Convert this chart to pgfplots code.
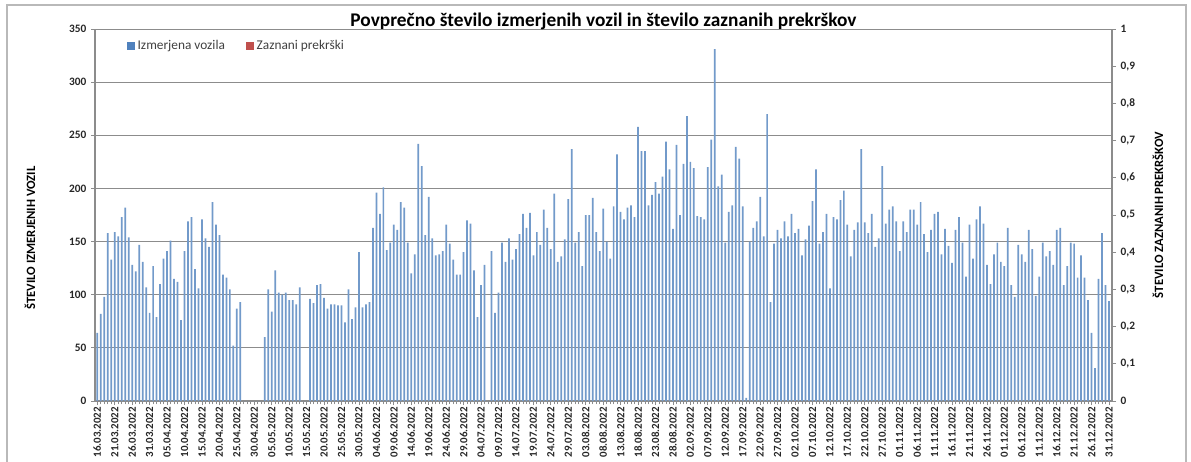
\documentclass[border=0pt]{standalone}
\usepackage{pgfplots}
\pgfplotsset{compat=1.18}
\usepackage{fontspec}
\setmainfont{Carlito}
\definecolor{barblue}{HTML}{4F81BD}
\definecolor{barred}{HTML}{C0504D}
\definecolor{gridgray}{HTML}{8C8C8C}
\begin{document}
\begin{tikzpicture}[x=1pt,y=1pt]
\useasboundingbox (0,0) rectangle (893.25,345.75);
\draw[gray!55, line width=0.8pt] (5.25,-10) -- (5.25,342) -- (889.5,342) -- (889.5,-10);
\begin{axis}[
  at={(71.25pt,45pt)}, anchor=south west,
  width=762.75pt, height=279pt, scale only axis,
  xmin=-0.66, xmax=290.86, ymin=0, ymax=350,
  axis y line*=left, axis x line*=bottom,
  axis line style={gridgray, line width=0.8pt},
  ymajorgrids, grid style={gridgray, line width=0.75pt},
  ytick={0,50,...,350},
  xtick={0,5,...,290},
  minor x tick num=4,
  tick align=outside,
  major tick length=3pt, minor tick length=2.5pt,
  tick style={gridgray, line width=0.6pt},
  xticklabels={16.03.2022,21.03.2022,26.03.2022,31.03.2022,05.04.2022,10.04.2022,15.04.2022,20.04.2022,25.04.2022,30.04.2022,05.05.2022,10.05.2022,15.05.2022,20.05.2022,25.05.2022,30.05.2022,04.06.2022,09.06.2022,14.06.2022,19.06.2022,24.06.2022,29.06.2022,04.07.2022,09.07.2022,14.07.2022,19.07.2022,24.07.2022,29.07.2022,03.08.2022,08.08.2022,13.08.2022,18.08.2022,23.08.2022,28.08.2022,02.09.2022,07.09.2022,12.09.2022,17.09.2022,22.09.2022,27.09.2022,02.10.2022,07.10.2022,12.10.2022,17.10.2022,22.10.2022,27.10.2022,01.11.2022,06.11.2022,11.11.2022,16.11.2022,21.11.2022,26.11.2022,01.12.2022,06.12.2022,11.12.2022,16.12.2022,21.12.2022,26.12.2022,31.12.2022},
  xticklabel style={rotate=90, anchor=east, font=\bfseries\fontsize{8.2}{9}\selectfont, text=black!85, inner sep=1.5pt},
  yticklabel style={font=\bfseries\fontsize{8.5}{9}\selectfont, text=black!85},
  /pgf/number format/assume math mode=true,
  legend style={at={(0.0275,0.954)}, anchor=west, draw=none, fill=none,
    font=\fontsize{10}{11}\selectfont, text=black!75, legend columns=2,
    /tikz/every even column/.append style={column sep=14pt}},
]
\addlegendimage{legend image code/.code={\fill[barblue] (0pt,-2.7pt) rectangle (5.4pt,2.7pt);}}
\addlegendentry{Izmerjena vozila}
\addlegendimage{legend image code/.code={\fill[barred] (0pt,-2.7pt) rectangle (5.4pt,2.7pt);}}
\addlegendentry{Zaznani prekrški}
\addplot[ybar, bar width=1.3pt, bar shift=0pt, fill=barblue!80!white, draw=none, forget plot] coordinates {
(0,64) (1,82) (2,98) (3,158) (4,133) (5,159) (6,155) (7,173) (8,182) (9,154)
(10,128) (11,122) (12,147) (13,131) (14,107) (15,83) (16,127) (17,79) (18,110) (19,134)
(20,141) (21,151) (22,115) (23,112) (24,76) (25,141) (26,169) (27,173) (28,124) (29,106)
(30,171) (31,153) (32,145) (33,187) (34,166) (35,156) (36,119) (37,116) (38,105) (39,52)
(40,87) (41,93) (42,0) (43,0) (44,0) (45,0) (46,0) (47,0) (48,60) (49,105)
(50,84) (51,123) (52,102) (53,100) (54,102) (55,95) (56,95) (57,91) (58,107) (59,0)
(60,0) (61,96) (62,92) (63,109) (64,110) (65,97) (66,87) (67,91) (68,91) (69,90)
(70,90) (71,74) (72,105) (73,77) (74,88) (75,140) (76,88) (77,91) (78,93) (79,163)
(80,196) (81,176) (82,201) (83,142) (84,149) (85,166) (86,161) (87,187) (88,182) (89,149)
(90,120) (91,138) (92,242) (93,221) (94,156) (95,192) (96,153) (97,137) (98,138) (99,141)
(100,166) (101,148) (102,133) (103,119) (104,119) (105,140) (106,170) (107,167) (108,123) (109,79)
(110,109) (111,128) (112,0) (113,141) (114,83) (115,102) (116,149) (117,131) (118,153) (119,133)
(120,143) (121,157) (122,176) (123,163) (124,177) (125,137) (126,159) (127,147) (128,180) (129,163)
(130,143) (131,195) (132,131) (133,136) (134,152) (135,190) (136,237) (137,149) (138,159) (139,127)
(140,175) (141,175) (142,191) (143,159) (144,141) (145,181) (146,150) (147,134) (148,183) (149,232)
(150,178) (151,171) (152,182) (153,184) (154,173) (155,258) (156,235) (157,235) (158,184) (159,194)
(160,206) (161,195) (162,211) (163,244) (164,218) (165,162) (166,241) (167,175) (168,223) (169,268)
(170,225) (171,219) (172,174) (173,173) (174,171) (175,220) (176,246) (177,331) (178,202) (179,213)
(180,149) (181,178) (182,184) (183,239) (184,228) (185,183) (186,3) (187,150) (188,163) (189,169)
(190,192) (191,155) (192,270) (193,93) (194,148) (195,161) (196,153) (197,169) (198,155) (199,176)
(200,158) (201,162) (202,137) (203,152) (204,165) (205,188) (206,218) (207,148) (208,159) (209,176)
(210,106) (211,173) (212,171) (213,189) (214,198) (215,166) (216,136) (217,161) (218,168) (219,237)
(220,168) (221,158) (222,176) (223,145) (224,153) (225,221) (226,167) (227,180) (228,183) (229,169)
(230,141) (231,169) (232,159) (233,180) (234,180) (235,166) (236,187) (237,157) (238,140) (239,161)
(240,176) (241,178) (242,138) (243,162) (244,146) (245,130) (246,161) (247,173) (248,149) (249,117)
(250,166) (251,134) (252,171) (253,183) (254,167) (255,128) (256,110) (257,138) (258,149) (259,131)
(260,127) (261,163) (262,109) (263,98) (264,147) (265,138) (266,131) (267,161) (268,143) (269,99)
(270,117) (271,149) (272,136) (273,141) (274,128) (275,161) (276,163) (277,109) (278,127) (279,149)
(280,148) (281,116) (282,137) (283,116) (284,95) (285,64) (286,31) (287,115) (288,158) (289,109)
(290,94)
};
\end{axis}
\begin{axis}[
  at={(71.25pt,45pt)}, anchor=south west,
  width=762.75pt, height=279pt, scale only axis,
  xmin=-0.66, xmax=290.86, ymin=0, ymax=1,
  axis y line*=right, axis x line=none,
  axis line style={gridgray, line width=0.8pt},
  ytick={0,0.1,0.2,0.3,0.4,0.5,0.6,0.7,0.8,0.9,1},
  tick align=outside, major tick length=3pt,
  ytick style={gridgray, line width=0.6pt},
  yticklabel style={font=\bfseries\fontsize{8.5}{9}\selectfont, text=black!85,
    /pgf/number format/.cd, use comma, fixed, precision=1},
  /pgf/number format/assume math mode=true,
]
\addplot[ybar, bar width=1.3pt, bar shift=0pt, fill=barred, draw=none] coordinates {(0,0) (100,0) (200,0) (290,0)};
\end{axis}
\node[rotate=90, font=\bfseries\fontsize{9.5}{11}\selectfont] at (22.5,167.25) {ŠTEVILO IZMERJENIH VOZIL};
\node[rotate=90, font=\bfseries\fontsize{9.5}{11}\selectfont] at (868.5,184.5) {ŠTEVILO ZAZNANIH PREKRŠKOV};
\node[font=\bfseries\fontsize{14.5}{16}\selectfont, anchor=base] at (452.6,325.5) {Povprečno število izmerjenih vozil in število zaznanih prekrškov};
\end{tikzpicture}
\end{document}
